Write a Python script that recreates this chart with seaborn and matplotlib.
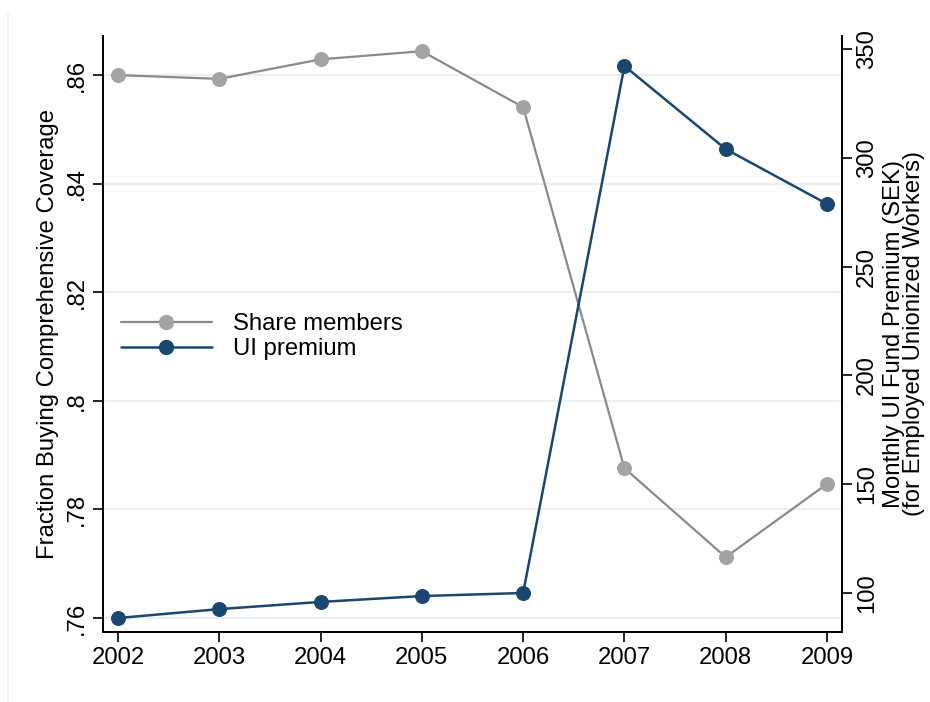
import matplotlib
matplotlib.use("Agg")
import matplotlib.pyplot as plt
from matplotlib.lines import Line2D
import seaborn as sns
import pandas as pd

years = [2002, 2003, 2004, 2005, 2006, 2007, 2008, 2009]
share_members = [0.8600, 0.8593, 0.8629, 0.8644, 0.8541, 0.7876, 0.7712, 0.7847]
ui_premium = [88.5, 92.6, 95.9, 98.6, 100.0, 342.2, 304.0, 278.8]

left_ticks = [0.76, 0.78, 0.80, 0.82, 0.84, 0.86]
left_ticklabels = [".76", ".78", ".8", ".82", ".84", ".86"]
right_ticks = [100, 150, 200, 250, 300, 350]

sns.set_theme(style="white")
plt.rcParams["font.family"] = ["Liberation Sans", "DejaVu Sans"]
plt.rcParams["text.color"] = "black"
plt.rcParams["axes.labelcolor"] = "black"

df = pd.DataFrame({"year": years, "share": share_members, "premium": ui_premium})

GRAY_LINE = "#8a8a8a"
GRAY_MARK = "#a3a3a3"
NAVY = "#1a476f"
FS = 17.2

fig = plt.figure(figsize=(9.30, 7.02), dpi=100)
fig.patch.set_facecolor("white")
ax = fig.add_axes([103 / 930, 70 / 702, (842 - 103) / 930, (632 - 36) / 702])
ax2 = ax.twinx()

sns.lineplot(data=df, x="year", y="share", ax=ax, color=GRAY_LINE, linewidth=1.6,
             marker="o", markersize=10, markerfacecolor=GRAY_MARK,
             markeredgecolor=GRAY_MARK, label="Share members", legend=False)
sns.lineplot(data=df, x="year", y="premium", ax=ax2, color=NAVY, linewidth=1.8,
             marker="o", markersize=10, markerfacecolor=NAVY,
             markeredgecolor=NAVY, label="UI premium", legend=False)

ax.set_xlim(2001.852, 2009.148)
ax.set_ylim(0.75742, 0.8672)
ax2.set_ylim(82.08, 355.97)

ax.set_xticks(years)
ax.set_xticklabels([str(y) for y in years], fontsize=FS)
ax.set_yticks(left_ticks)
ax.set_yticklabels(left_ticklabels, fontsize=FS, rotation=90, va="center")
ax2.set_yticks(right_ticks)
ax2.set_yticklabels([str(v) for v in right_ticks], fontsize=FS, rotation=90, va="center")

ax.grid(axis="y", color="#e9f0f1", linewidth=1.6)
ax.set_axisbelow(True)

for a in (ax, ax2):
    a.spines["top"].set_visible(False)
    for s in ("left", "bottom", "right"):
        a.spines[s].set_color("black")
        a.spines[s].set_linewidth(1.3)
    a.tick_params(axis="both", which="major", length=7.5, width=1.2, color="black",
                  labelcolor="black", pad=3.5)
ax.tick_params(axis="y", left=True, right=False)
ax.tick_params(axis="x", bottom=True)
ax2.tick_params(axis="y", right=True, left=False, pad=2.5)

ax.set_xlabel("")
ax.set_ylabel("Fraction Buying Comprehensive Coverage", fontsize=FS, color="black")
ax.yaxis.set_label_coords(-0.060, 0.5)
ax2.set_ylabel("Monthly UI Fund Premium (SEK)\n(for Employed Unionized Workers)",
               fontsize=FS, linespacing=0.9, color="black")
ax2.yaxis.set_label_coords(1.0555, 0.5)

handles = [
    Line2D([], [], color=GRAY_LINE, linewidth=1.6, marker="o", markersize=10,
           markerfacecolor=GRAY_MARK, markeredgecolor=GRAY_MARK),
    Line2D([], [], color=NAVY, linewidth=1.8, marker="o", markersize=10,
           markerfacecolor=NAVY, markeredgecolor=NAVY),
]
leg = ax2.legend(handles, ["Share members", "UI premium"], loc="upper left",
                 bbox_to_anchor=(18 / 739, (632 - 313) / 596), frameon=False,
                 fontsize=FS, handlelength=3.8, handletextpad=0.9, labelspacing=0.14,
                 borderpad=0, borderaxespad=0)
for t in leg.get_texts():
    t.set_color("black")

# faint outer graph-region edge
fig.add_artist(Line2D([8 / 930, 8 / 930], [0, 1 - 12 / 702],
                      transform=fig.transFigure, color="#eef2f2", linewidth=1.2))

fig.savefig("out.png", dpi=100, facecolor="white")
